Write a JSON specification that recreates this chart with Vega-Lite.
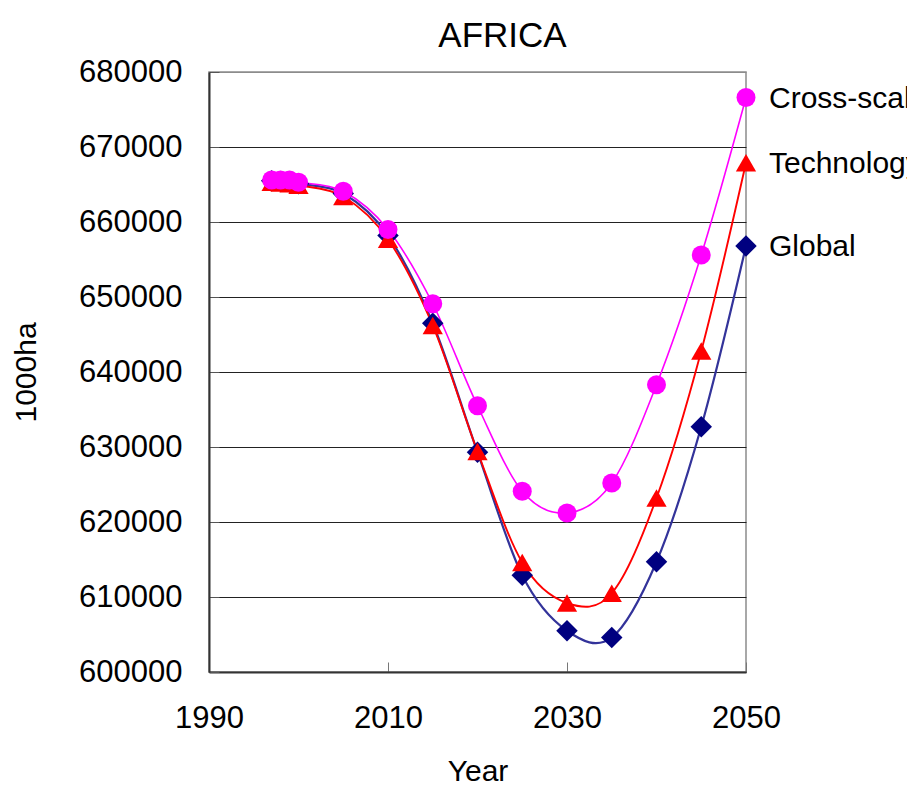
{
  "$schema": "https://vega.github.io/schema/vega-lite/v6.json",
  "width": 537,
  "height": 600,
  "autosize": {"type": "none"},
  "padding": {"left": 209, "top": 72, "right": 161, "bottom": 126},
  "background": "white",
  "config": {
    "font": "Liberation Sans",
    "view": {"stroke": "#8c8c8c", "strokeWidth": 1.5},
    "axis": {"labelFont": "Liberation Sans", "titleFont": "Liberation Sans", "labelColor": "black", "titleColor": "black", "titleFontWeight": "normal"}
  },
  "title": {
    "text": "AFRICA",
    "font": "Liberation Sans",
    "fontSize": 35,
    "fontWeight": "normal",
    "color": "black",
    "frame": "group",
    "anchor": "middle",
    "baseline": "alphabetic",
    "offset": -26,
    "dx": 25
  },
  "data": {
    "values": [
      {"s": "Global", "year": 1997, "v": 665500},
      {"s": "Global", "year": 1998, "v": 665400},
      {"s": "Global", "year": 1999, "v": 665300},
      {"s": "Global", "year": 2000, "v": 665100},
      {"s": "Global", "year": 2005, "v": 663800},
      {"s": "Global", "year": 2010, "v": 658200},
      {"s": "Global", "year": 2015, "v": 646500},
      {"s": "Global", "year": 2020, "v": 629300},
      {"s": "Global", "year": 2025, "v": 612900},
      {"s": "Global", "year": 2030, "v": 605500},
      {"s": "Global", "year": 2035, "v": 604600},
      {"s": "Global", "year": 2040, "v": 614700},
      {"s": "Global", "year": 2045, "v": 632700},
      {"s": "Global", "year": 2050, "v": 656800},
      {"s": "Technology", "year": 1997, "v": 665300},
      {"s": "Technology", "year": 1998, "v": 665200},
      {"s": "Technology", "year": 1999, "v": 665100},
      {"s": "Technology", "year": 2000, "v": 664900},
      {"s": "Technology", "year": 2005, "v": 663400},
      {"s": "Technology", "year": 2010, "v": 657700},
      {"s": "Technology", "year": 2015, "v": 646200},
      {"s": "Technology", "year": 2020, "v": 629400},
      {"s": "Technology", "year": 2025, "v": 614600},
      {"s": "Technology", "year": 2030, "v": 609200},
      {"s": "Technology", "year": 2035, "v": 610500},
      {"s": "Technology", "year": 2040, "v": 623200},
      {"s": "Technology", "year": 2045, "v": 642800},
      {"s": "Technology", "year": 2050, "v": 667900},
      {"s": "Cross-scale", "year": 1997, "v": 665600},
      {"s": "Cross-scale", "year": 1998, "v": 665600},
      {"s": "Cross-scale", "year": 1999, "v": 665600},
      {"s": "Cross-scale", "year": 2000, "v": 665300},
      {"s": "Cross-scale", "year": 2005, "v": 664100},
      {"s": "Cross-scale", "year": 2010, "v": 659000},
      {"s": "Cross-scale", "year": 2015, "v": 649100},
      {"s": "Cross-scale", "year": 2020, "v": 635500},
      {"s": "Cross-scale", "year": 2025, "v": 624100},
      {"s": "Cross-scale", "year": 2030, "v": 621200},
      {"s": "Cross-scale", "year": 2035, "v": 625200},
      {"s": "Cross-scale", "year": 2040, "v": 638300},
      {"s": "Cross-scale", "year": 2045, "v": 655600},
      {"s": "Cross-scale", "year": 2050, "v": 676600}
    ]
  },
  "encoding": {
    "x": {
      "field": "year",
      "type": "quantitative",
      "scale": {"domain": [1990, 2050], "nice": false, "zero": false},
      "axis": {
        "title": "Year",
        "titleFontSize": 30,
        "titlePadding": 23,
        "values": [1990, 2010, 2030, 2050],
        "format": "d",
        "labelFontSize": 31,
        "labelPadding": 41,
        "labelFlush": false,
        "tickSize": -10,
        "tickColor": "#777",
        "domainColor": "#333",
        "domainWidth": 2,
        "grid": false
      }
    },
    "y": {
      "field": "v",
      "type": "quantitative",
      "scale": {"domain": [600000, 680000], "nice": false, "zero": false},
      "axis": {
        "title": "1000ha",
        "titleFontSize": 30,
        "titlePadding": 37,
        "values": [600000, 610000, 620000, 630000, 640000, 650000, 660000, 670000, 680000],
        "format": "d",
        "labelFontSize": 31,
        "labelPadding": 37,
        "labelFlush": false,
        "tickSize": -10,
        "tickColor": "#555",
        "domainColor": "#333",
        "domainWidth": 2,
        "grid": true,
        "gridColor": {"condition": {"test": "datum.value == 680000", "value": "#8c8c8c"}, "value": "#222"},
        "gridWidth": 1
      }
    }
  },
  "layer": [
    {
      "mark": {"type": "line", "interpolate": "cardinal", "tension": 0},
      "encoding": {
        "color": {
          "field": "s",
          "type": "nominal",
          "scale": {"domain": ["Cross-scale", "Technology", "Global"], "range": ["#FF00FF", "#FF0000", "#33339A"]},
          "legend": null
        },
        "strokeWidth": {
          "field": "s",
          "type": "nominal",
          "scale": {"domain": ["Cross-scale", "Technology", "Global"], "range": [1.6, 2.2, 1.6]},
          "legend": null
        },
        "detail": {"field": "s"}
      }
    },
    {
      "mark": {"type": "point", "filled": true, "opacity": 1},
      "encoding": {
        "fill": {
          "field": "s",
          "type": "nominal",
          "scale": {"domain": ["Cross-scale", "Technology", "Global"], "range": ["#FF00FF", "#FF0000", "#000080"]},
          "legend": null
        },
        "shape": {
          "field": "s",
          "type": "nominal",
          "scale": {"domain": ["Cross-scale", "Technology", "Global"], "range": ["circle", "triangle-up", "diamond"]},
          "legend": null
        },
        "size": {
          "field": "s",
          "type": "nominal",
          "scale": {"domain": ["Cross-scale", "Technology", "Global"], "range": [361, 460, 441]},
          "legend": null
        }
      }
    },
    {
      "transform": [{"filter": "datum.year == 2050"}],
      "mark": {"type": "text", "align": "left", "baseline": "middle", "dx": 23, "dy": 1, "fontSize": 30, "font": "Liberation Sans", "color": "black"},
      "encoding": {"text": {"field": "s"}}
    }
  ]
}
